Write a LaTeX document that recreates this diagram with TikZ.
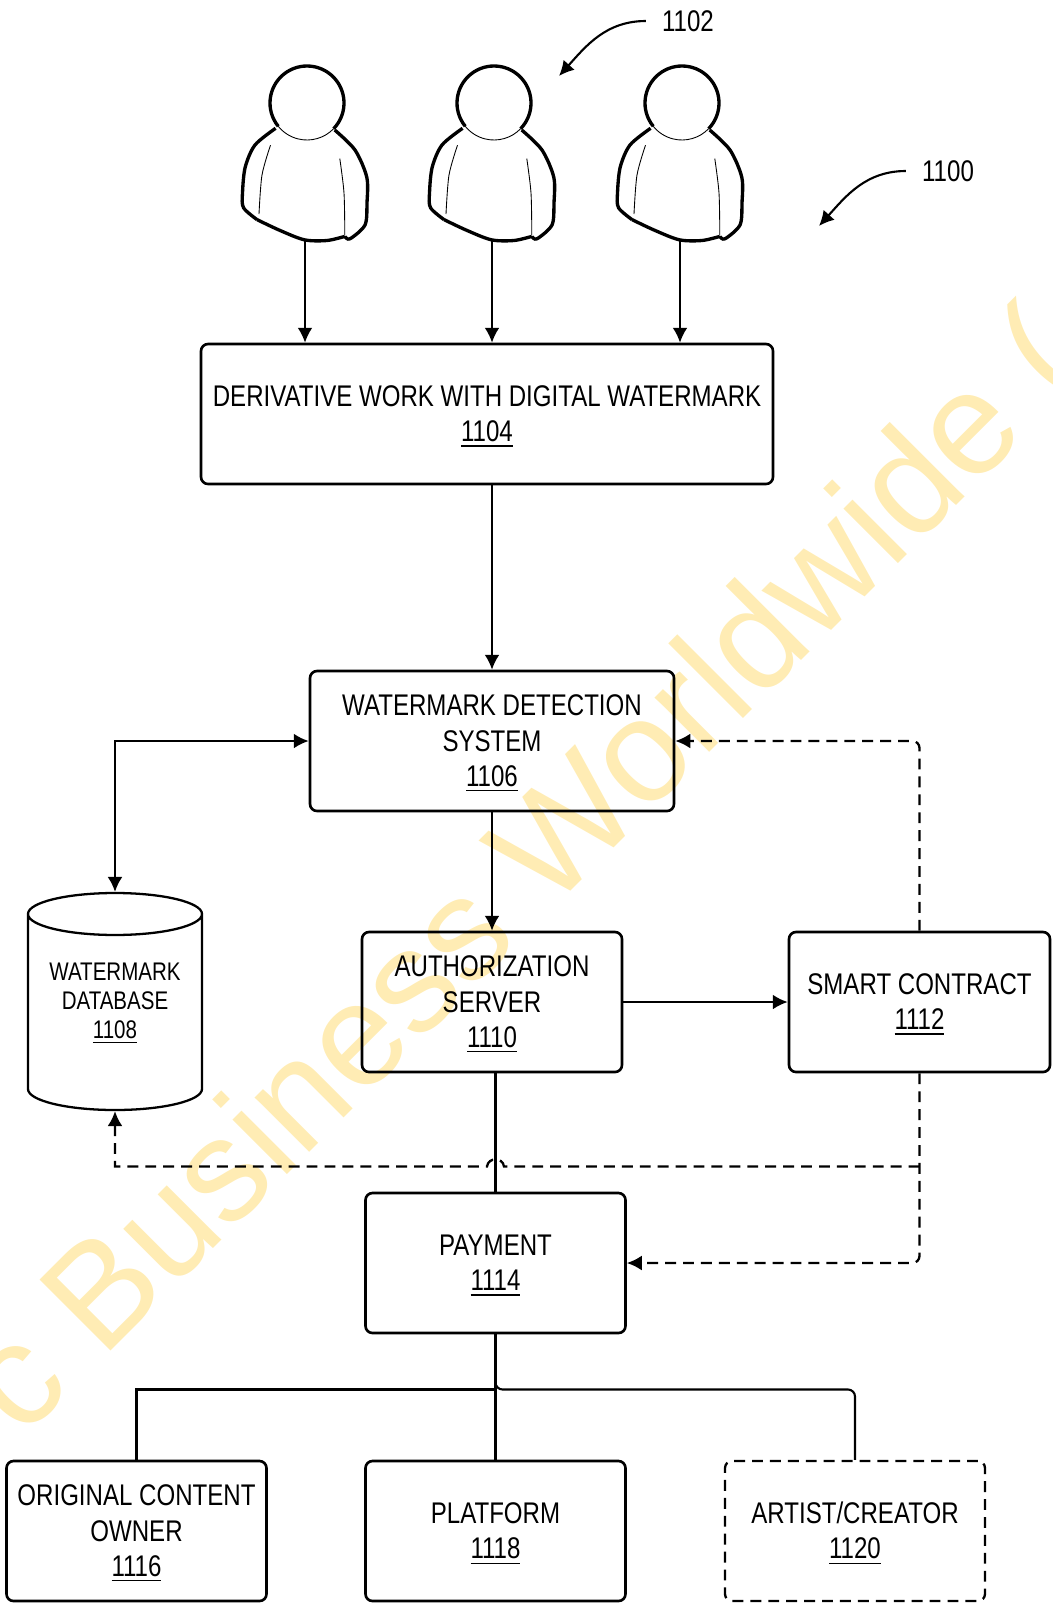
\documentclass[tikz,border=0pt]{standalone}
\usepackage{amsmath,amssymb}
\usepackage{xcolor}
\usepackage{fontspec}
\setmainfont{Liberation Sans}[FakeStretch=0.806]
\newfontfamily\markfont{Liberation Sans}
\usetikzlibrary{arrows.meta,shapes.geometric}
\definecolor{markyellow}{HTML}{FFECB4}
\def\px{0.02cm}
\def\lift{\rule{0pt}{15pt}}
\tikzset{
  boxnode/.style={draw,line width=1.5pt,rounded corners=4pt,align=center,font=\fontsize{17}{20}\selectfont,inner sep=0pt},
  dbfont/.style={align=center,inner sep=0pt,font=\fontsize{14.5}{16.5}\selectfont},
  link/.style={line width=1.2pt},
  dashlink/.style={line width=1.3pt,dash pattern=on 6.2pt off 4pt},
  refnum/.style={font=\fontsize{17}{20}\selectfont,inner sep=9pt},
  person/.pic={
    \draw[line width=1.9pt] (141:37) arc (141:404:37);
    \draw[line width=0.5pt] (44:37) arc (44:141:37);
    \draw[line width=1.9pt,line join=round] plot[smooth] coordinates {(-31.4,25.3) (-52,42) (-61.8,64.2) (-64.5,90) (-63.5,104.7) (-50,116.6)};
    \draw[line width=1.9pt] plot[smooth] coordinates {(-50,116.6) (-28,127) (-2.7,136.8) (20,137.5) (37.8,133.4)};
    \draw[line width=1.9pt] plot[smooth] coordinates {(37.8,133.4) (43,135.8) (58,122) (60,100) (59.8,74.3) (48,47) (27.7,27)};
    \draw[line width=0.5pt] plot[smooth] coordinates {(-36.5,42.2) (-45,72) (-48,111)};
    \draw[line width=0.5pt] plot[smooth] coordinates {(32.8,55.7) (37,90) (37.8,131.8)};
    \coordinate (foot) at (-2,137);
  }
}
\begin{document}
\begin{tikzpicture}[x=0.02cm,y=-0.02cm,>={Latex[length=8.5pt,width=8.5pt]}]
  \useasboundingbox (0,0) rectangle (1053,1606);

  % Backdrop
  \begin{scope}
    \clip (0,0) rectangle (1053,1606);
    \node[rotate=45,anchor=base west,inner sep=0pt,text=markyellow,font=\markfont\fontsize{83}{90}\selectfont] (mark) at (22,1440) {c Business Worldwide (};
  \end{scope}

  % People
  \pic (pa) at (307,103) {person};
  \pic (pb) at (494,103) {person};
  \pic (pc) at (682,103) {person};

  \node[refnum] (crowdnum) at (688,21) {1102};
  \node[refnum] (sysnum) at (948,171) {1100};
  \coordinate (crowdtip) at (559,76);
  \coordinate (systip) at (819,226);
  \draw[link,->] (crowdnum.west) to[out=180,in=48] (crowdtip);
  \draw[link,->] (sysnum.west) to[out=180,in=48] (systip);

  % Boxes
  \node[boxnode,minimum width=572*\px,minimum height=140*\px] (work) at (487,414) {\lift DERIVATIVE WORK WITH DIGITAL WATERMARK\\\underline{1104}};
  \node[boxnode,minimum width=364*\px,minimum height=140*\px] (detect) at (492,741) {\lift WATERMARK DETECTION\\SYSTEM\\\underline{1106}};
  \node[boxnode,minimum width=260*\px,minimum height=140*\px] (auth) at (492,1002) {\lift AUTHORIZATION\\SERVER\\\underline{1110}};
  \node[boxnode,minimum width=261*\px,minimum height=140*\px] (contract) at (919.5,1002) {\lift SMART CONTRACT\\\underline{1112}};
  \node[boxnode,minimum width=260*\px,minimum height=140*\px] (pay) at (495.5,1263) {\lift PAYMENT\\\underline{1114}};
  \node[boxnode,minimum width=260*\px,minimum height=140*\px] (owner) at (136.5,1531) {\lift ORIGINAL CONTENT\\OWNER\\\underline{1116}};
  \node[boxnode,minimum width=260*\px,minimum height=140*\px] (plat) at (495.5,1531) {\lift PLATFORM\\\underline{1118}};
  \node[boxnode,dashlink,minimum width=260*\px,minimum height=140*\px] (artist) at (855,1531) {\lift ARTIST/CREATOR\\\underline{1120}};

  % Database
  \node[draw,line width=1.3pt,cylinder,shape border rotate=90,shape aspect=0.32,minimum width=174*\px,minimum height=217*\px,dbfont,anchor=shape center] (db) at (115,1001.5) {\phantom{WATERMARK}\\\phantom{DATABASE}\\\phantom{1108}};
  \node[dbfont] (dbtext) at (115,1003.5) {WATERMARK\\DATABASE\\\underline{1108}};

  % Solid links
  \draw[link,->] (pafoot) -- (pafoot |- work.north);
  \draw[link,->] (pbfoot) -- (pbfoot |- work.north);
  \draw[link,->] (pcfoot) -- (pcfoot |- work.north);
  \draw[link,->] (detect.north |- work.south) -- (detect.north);
  \draw[link,->] (detect) -- (auth);
  \draw[link,<->] (db.north) |- (detect.west);
  \draw[link,->] (auth.east) -- (contract.west);
  \draw[link] (pay.north |- auth.south) -- (pay.north);

  % Bus below payment
  \coordinate (bus) at (495.5,1389.5);
  \draw[link] (pay.south) -- (bus) -| (owner.north);
  \draw[link,rounded corners=4pt] (pay.south) -- (bus) -| (artist.north);
  \draw[link] (bus) -- (plat.north);

  % Dashed links
  \coordinate (tee) at (919.5,1166.5);
  \draw[dashlink,->,rounded corners=4pt] (contract.north) |- (detect.east);
  \draw[dashlink,->,rounded corners=4pt] (contract.south) |- (pay.east);
  \draw[dashlink,->] (tee) -- (504,1166.5) .. controls (503,1157) and (488,1157) .. (487,1166.5) -| (db.south);
\end{tikzpicture}
\end{document}
